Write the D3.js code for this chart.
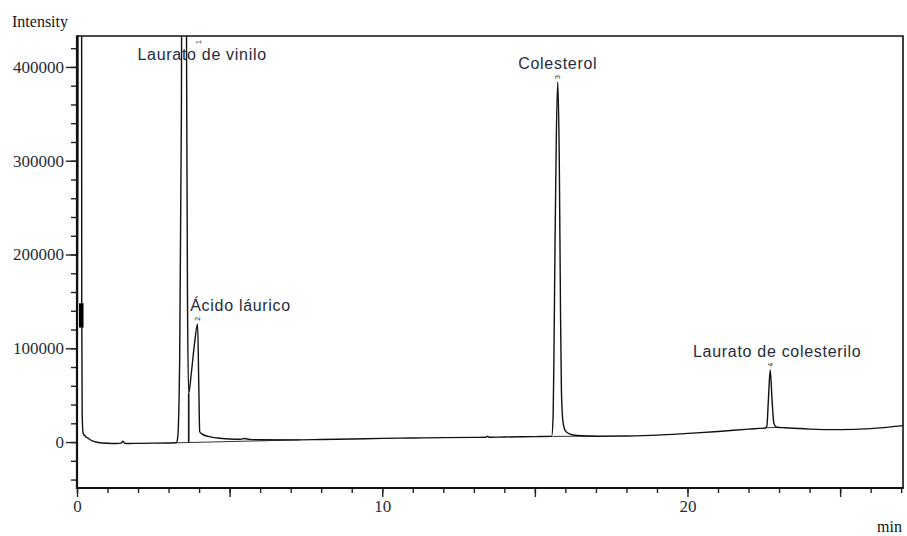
<!DOCTYPE html>
<html>
<head>
<meta charset="utf-8">
<script src="https://cdn.jsdelivr.net/npm/d3@7"></script>
<style>
  html, body { margin: 0; padding: 0; background: #fff; }
  svg { display: block; }
</style>
</head>
<body>
<div id="chart"></div>
<script>
// ---- data (retention time in min, intensity in counts) ----
const times = [
  0.00, 0.03, 0.06, 0.09, 0.13, 0.155, 0.17, 0.20, 0.28, 0.37, 0.50, 0.59, 0.75, 1.00, 1.30, 1.45, 1.50, 1.56, 1.70, 2.00, 2.50, 3.00, 3.25,
  3.30, 3.36, 3.42, 3.46, 3.51, 3.56, 3.59, 3.62, 3.66,
  3.75, 3.85, 3.95, 3.99, 4.02, 4.10, 4.30, 4.60, 5.00, 5.35, 5.50, 5.65, 6.00, 7.00, 8.00, 9.00, 10.00, 11.00, 12.00, 13.00, 13.40, 13.45, 13.50, 14.00, 15.00, 15.55,
  15.60, 15.63, 15.66, 15.70, 15.75, 15.80, 15.84, 15.87, 15.92, 16.00, 16.15, 16.40, 17.00, 18.00, 19.00, 20.00, 21.00, 22.00, 22.55,
  22.60, 22.65, 22.71, 22.77, 22.83, 22.92, 23.20, 24.00, 25.00, 26.00, 27.06
];
const intensity = [
  1500, 300000, 2500000, 3000000, 2500000, 150000, 30000, 9500, 6000, 3900, 1200, 300, -700, -1300, -1500, -1200, 1000, -1300, -1500, -1400, -1200, -1000, -800,
  5000, 80000, 350000, 900000, 2000000, 900000, 400000, 150000, 52000,
  75000, 105000, 126000, 60000, 11000, 8500, 6000, 4300, 3300, 3000, 3800, 2800, 2400, 2300, 2700, 3200, 3900, 4300, 4700, 5000, 5100, 6200, 5100, 5400, 5800, 6000,
  30000, 110000, 210000, 320000, 384000, 300000, 140000, 55000, 22000, 12000, 8500, 7000, 6200, 6500, 7400, 9200, 11200, 13800, 15000,
  17000, 45000, 77000, 45000, 20000, 15800, 15200, 13800, 13200, 14300, 17500
];

// integration baselines and drop line
const baseStartT = [3.27, 15.58, 22.57];
const baseStartV = [-800, 6000, 15200];
const baseEndT   = [7.30, 17.00, 22.95];
const baseEndV   = [2300, 6300, 15700];
const dropT = [3.66];
const dropTopV = [52000];
const dropBottomV = [-100];

// peaks
const peakNames  = ["Laurato de vinilo", "Ácido láurico", "Colesterol", "Laurato de colesterilo"];
const peakNums   = ["1", "2", "3", "4"];
const peakTimes  = [3.51, 3.95, 15.75, 22.71];
const peakTops   = [433000, 126000, 384000, 77000];

// axis ticks
const xMajorTicks = [0, 5, 10, 15, 20, 25];
const xLabelTicks = [0, 10, 20];
const xMinorTicks = d3.range(0, 28, 1);
const yMajorTicks = [0, 100000, 200000, 300000, 400000];
const yMinorTicks = d3.range(-40000, 430000, 20000);

// ---- layout ----
const W = 907, H = 536;
const L = 77, R = 903, T = 36, B = 488;

const svg = d3.select("#chart").append("svg").attr("width", W).attr("height", H);

const x = d3.scaleLinear().domain([0, 27.06]).range([L, R]);
const y = d3.scaleLinear().domain([-49000, 433000]).range([B, T]);

const serif = "'Liberation Serif', 'Times New Roman', serif";
const sans = "'Liberation Sans', Arial, sans-serif";
const textCol = "#252b3c";

svg.append("defs").append("clipPath").attr("id", "plotclip")
  .append("rect").attr("x", L).attr("y", T).attr("width", R - L).attr("height", B - T);

// frame (top and right)
svg.append("path")
  .attr("d", `M${L},${T}H${R}V${B}`)
  .attr("fill", "none").attr("stroke", "#111").attr("stroke-width", 1.6);

// x axis
const xAxisMinor = d3.axisBottom(x).tickValues(xMinorTicks).tickSize(5).tickFormat("");
const xAxisMajor = d3.axisBottom(x).tickValues(xMajorTicks).tickSize(9)
  .tickFormat(d => xLabelTicks.includes(d) ? d3.format("d")(d) : "").tickPadding(3);
const gxm = svg.append("g").attr("transform", `translate(0,${B})`).call(xAxisMinor);
const gx = svg.append("g").attr("transform", `translate(0,${B})`).call(xAxisMajor);
[gxm, gx].forEach(g => {
  g.select(".domain").remove();
  g.selectAll("line").attr("stroke", "#222").attr("stroke-width", 1.4);
});
gx.selectAll("text").attr("font-family", serif).attr("font-size", 17).attr("fill", textCol);

// y axis
const yAxisMinor = d3.axisLeft(y).tickValues(yMinorTicks).tickSize(6).tickFormat("");
const yAxisMajor = d3.axisLeft(y).tickValues(yMajorTicks).tickSize(11).tickPadding(2)
  .tickFormat(d3.format("d"));
const gym = svg.append("g").attr("transform", `translate(${L},0)`).call(yAxisMinor);
const gy = svg.append("g").attr("transform", `translate(${L},0)`).call(yAxisMajor);
[gym, gy].forEach(g => {
  g.select(".domain").remove();
  g.selectAll("line").attr("stroke", "#222").attr("stroke-width", 1.4);
});
gy.selectAll("text").attr("font-family", serif).attr("font-size", 17).attr("fill", textCol);

// axis lines
svg.append("line").attr("x1", L).attr("x2", R + 0.8).attr("y1", B).attr("y2", B)
  .attr("stroke", "#111").attr("stroke-width", 2);
svg.append("line").attr("x1", L).attr("x2", L).attr("y1", T - 0.8).attr("y2", B + 1)
  .attr("stroke", "#111").attr("stroke-width", 2.2);

// axis titles
svg.append("text").attr("x", 12).attr("y", 27).text("Intensity")
  .attr("font-family", serif).attr("font-size", 16).attr("fill", "#111");
svg.append("text").attr("x", 902).attr("y", 532).attr("text-anchor", "end").text("min")
  .attr("font-family", serif).attr("font-size", 16).attr("fill", "#111");

// plot content
const plot = svg.append("g").attr("clip-path", "url(#plotclip)");

// integration baselines
baseStartT.forEach((t, i) => {
  plot.append("line")
    .attr("x1", x(t)).attr("y1", y(baseStartV[i]))
    .attr("x2", x(baseEndT[i])).attr("y2", y(baseEndV[i]))
    .attr("stroke", "#333").attr("stroke-width", 1);
});
dropT.forEach((t, i) => {
  plot.append("line")
    .attr("x1", x(t)).attr("x2", x(t))
    .attr("y1", y(dropTopV[i])).attr("y2", y(dropBottomV[i]))
    .attr("stroke", "#111").attr("stroke-width", 1.6);
});

// chromatogram
const pts = times.map((t, i) => [t, intensity[i]]);
const line = d3.line().x(d => x(d[0])).y(d => y(d[1])).curve(d3.curveMonotoneX);
plot.append("path").datum(pts)
  .attr("d", line)
  .attr("fill", "none").attr("stroke", "#111").attr("stroke-width", 1.4)
  .attr("stroke-linejoin", "round");

// event marker on the solvent peak
plot.append("line")
  .attr("x1", x(0.14)).attr("x2", x(0.14))
  .attr("y1", y(148000)).attr("y2", y(122000))
  .attr("stroke", "#000").attr("stroke-width", 4.5);

// peak numbers (small, rotated)
const numDx = [14, 0, 0, 0];
const numDy = [6, -5, -5, -5];
peakTimes.forEach((t, i) => {
  const px = x(t) + numDx[i];
  const py = Math.max(y(peakTops[i]), T) + numDy[i];
  svg.append("text")
    .attr("transform", `translate(${px + 2.5},${py}) rotate(-90)`)
    .attr("text-anchor", "middle")
    .attr("font-family", sans).attr("font-size", 7).attr("fill", "#222")
    .text(peakNums[i]);
});

// peak labels
const labDx = [18, 43, 0, 7];
const labDy = [24, -13, -13, -13];
peakTimes.forEach((t, i) => {
  const px = x(t) + labDx[i];
  const py = Math.max(y(peakTops[i]), T) + labDy[i];
  svg.append("text")
    .attr("x", px).attr("y", py)
    .attr("text-anchor", "middle")
    .attr("font-family", sans).attr("font-size", 16)
    .attr("letter-spacing", 0.7)
    .attr("fill", textCol)
    .text(peakNames[i]);
});
</script>
</body>
</html>
